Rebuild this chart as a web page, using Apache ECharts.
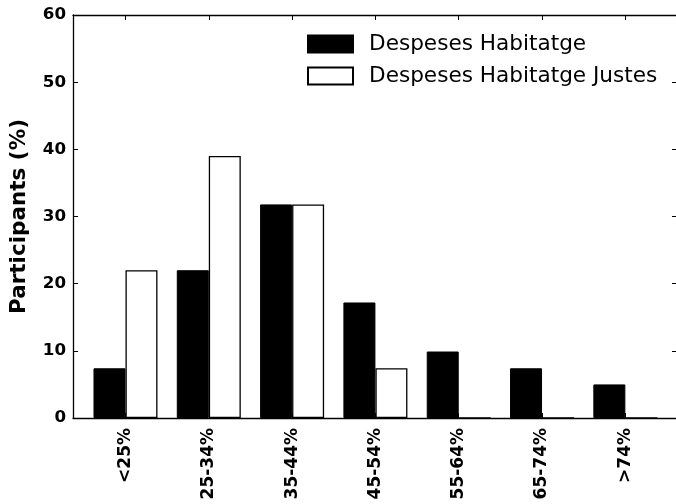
<!DOCTYPE html>
<html>
<head>
<meta charset="utf-8">
<script src="https://cdn.jsdelivr.net/npm/echarts@6/dist/echarts.min.js"></script>
<style>
  html, body { margin: 0; padding: 0; background: #fff; }
  #chart { width: 676px; height: 504px; }
</style>
</head>
<body>
<div id="chart"></div>
<script>
// categories and values (% of participants)
const categories = ['<25%', '25-34%', '35-44%', '45-54%', '55-64%', '65-74%', '>74%'];
const despeses = [7.4, 22.0, 31.8, 17.2, 9.9, 7.4, 5.0];
const despesesJustes = [22.0, 39.0, 31.8, 7.4, 0, 0, 0];
const yTicks = [0, 10, 20, 30, 40, 50, 60];
const catIndex = categories.map((c, i) => i);

const font = 'DejaVu Sans';
const chart = echarts.init(document.getElementById('chart'));

const xBase = {
  type: 'value',
  min: -0.63,
  max: 6.62,
  splitLine: { show: false },
  axisLine: { show: true, onZero: false, lineStyle: { color: '#000', width: 1.3 } },
  axisTick: { show: true, inside: true, length: 5, customValues: catIndex,
              lineStyle: { color: '#000', width: 1 } }
};

const yBase = {
  type: 'value',
  min: 0,
  max: 60,
  interval: 10,
  splitLine: { show: false },
  axisLine: { show: true, onZero: false, lineStyle: { color: '#000', width: 1.3 } },
  axisTick: { show: true, inside: true, length: 5, lineStyle: { color: '#000', width: 1 } }
};

chart.setOption({
  animation: false,
  backgroundColor: '#fff',
  grid: { left: 73, top: 15, right: -1, bottom: 86, outerBoundsMode: 'none', containLabel: false },
  legend: {
    orient: 'vertical',
    left: 307,
    top: 33,
    padding: 0,
    itemWidth: 45,
    itemHeight: 17,
    itemGap: 10,
    icon: 'rect',
    textStyle: { fontFamily: font, fontSize: 21.6, color: '#000', padding: [0, 0, 0, 11] },
    data: ['Despeses Habitatge', 'Despeses Habitatge Justes']
  },
  xAxis: [
    Object.assign({}, xBase, {
      position: 'bottom',
      axisLabel: {
        customValues: catIndex,
        rotate: 90,
        margin: 10,
        fontFamily: font,
        fontWeight: 'bold',
        fontSize: 17,
        color: '#000',
        formatter: v => categories[Math.round(v)]
      }
    }),
    Object.assign({}, xBase, {
      position: 'top',
      axisLabel: { show: false }
    })
  ],
  yAxis: [
    Object.assign({}, yBase, {
      position: 'left',
      name: 'Participants (%)',
      nameLocation: 'middle',
      nameGap: 43,
      nameTextStyle: { fontFamily: font, fontWeight: 'bold', fontSize: 21.5, color: '#000' },
      axisLabel: {
        margin: 7,
        fontFamily: font,
        fontWeight: 'bold',
        fontSize: 16.7,
        color: '#000',
        formatter: v => yTicks.includes(v) ? String(v) : ''
      }
    }),
    Object.assign({}, yBase, {
      position: 'right',
      axisLine: { show: false, onZero: false },
      axisLabel: { show: false }
    })
  ],
  series: [
    {
      name: 'Despeses Habitatge',
      type: 'bar',
      barWidth: 32,
      barGap: '0%',
      data: despeses.map((v, i) => [i, v]),
      itemStyle: { color: '#000', borderColor: '#000', borderWidth: 1 }
    },
    {
      name: 'Despeses Habitatge Justes',
      type: 'bar',
      barWidth: 32,
      barGap: '0%',
      data: despesesJustes.map((v, i) => [i, v]),
      itemStyle: { color: '#fff', borderColor: '#000', borderWidth: 1.3 }
    }
  ]
});
</script>
</body>
</html>
